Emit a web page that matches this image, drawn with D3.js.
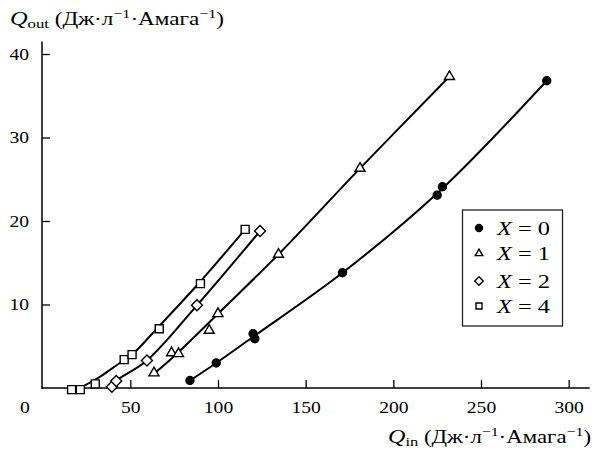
<!DOCTYPE html>
<html>
<head>
<meta charset="utf-8">
<script src="https://cdn.jsdelivr.net/npm/d3@7"></script>
<style>
  body { margin: 0; background: #fff; }
  svg text { font-family: "Liberation Serif", "Times New Roman", Times, serif !important; fill: #000; }
</style>
</head>
<body>
<div id="chart"></div>
<script>
// measured points [Q_in, Q_out]
const pointsX0 = [[84, 0.9], [99, 3], [120, 6.5], [121, 5.9], [171, 13.8], [225, 23.1], [228, 24.1], [287.5, 36.8]];
const pointsX1 = [[63.5, 1.8], [73.5, 4.2], [77.5, 4.1], [95, 6.9], [100, 8.9], [134.5, 16], [181, 26.3], [232, 37.3]];
const pointsX2 = [[39.5, 0.15], [42, 0.85], [59.5, 3.3], [88, 9.9], [124, 18.8]];
const pointsX4 = [[16.5, -0.2], [21.5, -0.2], [30, 0.5], [46.5, 3.4], [51, 4], [66.5, 7.1], [90, 12.5], [115.5, 19]];

// fitted curves
const fitX0 = [[84, 0.9], [99, 3], [120.5, 6.2], [171, 13.8], [226, 23.5], [287.5, 36.8]];
const fitX1 = [[64, 1.8], [77, 4.2], [100, 8.9], [134.5, 16], [181, 26.3], [232, 37.3]];
const fitX2 = [[40, 0.2], [42, 0.85], [59.5, 3.3], [88, 9.9], [124, 18.8]];
const fitX4 = [[21.3, 0], [32.7, 1.35], [44, 3], [51, 4], [66.4, 7.4], [89.7, 12.7], [115.5, 19]];

const seriesLabels = ["0", "1", "2", "4"];
const xTicks = [50, 100, 150, 200, 250, 300];
const yTicks = [10, 20, 30, 40];

const width = 593;
const height = 452;

const svg = d3.select("#chart")
  .append("svg")
  .attr("width", width)
  .attr("height", height);

// the source typeface runs wider than Liberation Serif, so fit widths
const digitWidth = 9.8;
function fitDigits(sel) {
  sel.attr("textLength", function () { return this.textContent.length * digitWidth; })
    .attr("lengthAdjust", "spacingAndGlyphs");
}

const x = d3.scaleLinear().domain([0, 312]).range([42.65, 589.7]);
const y = d3.scaleLinear().domain([0, 41.5]).range([388, 41.5]);

// axes
const xAxis = svg.append("g")
  .attr("transform", `translate(0,${y(0)})`)
  .call(d3.axisBottom(x).tickValues(xTicks).tickSizeInner(-8).tickSizeOuter(0).tickPadding(14));
const yAxis = svg.append("g")
  .attr("transform", `translate(42,0)`)
  .call(d3.axisLeft(y).tickValues(yTicks).tickSizeInner(-8).tickSizeOuter(0).tickPadding(13));

[xAxis, yAxis].forEach(g => {
  g.attr("font-family", null).attr("font-size", null);
  g.select(".domain").attr("stroke", "#000").attr("stroke-width", 1.5);
  g.selectAll(".tick line").attr("stroke", "#000").attr("stroke-width", 1.3);
  g.selectAll(".tick text").style("font-size", "16px").attr("fill", "#000").call(fitDigits);
});
xAxis.select(".domain").attr("d", `M${x(0) - 1},0H${x.range()[1]}`);
yAxis.select(".domain").attr("d", `M0,${y(0) + 0.75}V${y.range()[1]}`);

// shared origin label
svg.append("text")
  .attr("x", 25)
  .attr("y", 413)
  .attr("text-anchor", "middle")
  .style("font-size", "16px")
  .text("0")
  .call(fitDigits);

// curves
const line = d3.line()
  .x(d => x(d[0]))
  .y(d => y(d[1]))
  .curve(d3.curveCatmullRom.alpha(0.5));

[fitX0, fitX1, fitX2, fitX4].forEach(f => {
  svg.append("path")
    .attr("d", line(f))
    .attr("fill", "none")
    .attr("stroke", "#000")
    .attr("stroke-width", 2);
});

// marker shapes, s = overall width in px
function markerPath(kind, s) {
  if (kind === "circle") return d3.symbol(d3.symbolCircle, Math.PI * s * s / 4)();
  if (kind === "triangle") return d3.symbol(d3.symbolTriangle, s * s * 0.433)();
  if (kind === "diamond") return d3.symbol(d3.symbolSquare, s * s * 0.5)();
  return d3.symbol(d3.symbolSquare, s * s * 0.64)();
}

const groups = [
  { pts: pointsX0, kind: "circle", fill: "#000", size: 8, legSize: 7 },
  { pts: pointsX1, kind: "triangle", fill: "#fff", size: 10, legSize: 7.5 },
  { pts: pointsX2, kind: "diamond", fill: "#fff", size: 11, legSize: 8.5 },
  { pts: pointsX4, kind: "square", fill: "#fff", size: 10, legSize: 7.5 }
];

groups.forEach(gr => {
  svg.append("g")
    .selectAll("path")
    .data(gr.pts)
    .enter()
    .append("path")
    .attr("d", markerPath(gr.kind, gr.size))
    .attr("transform", d => `translate(${x(d[0])},${y(d[1])})` + (gr.kind === "diamond" ? " rotate(45)" : ""))
    .attr("fill", gr.fill)
    .attr("stroke", "#000")
    .attr("stroke-width", 1.4);
});

// legend
const legend = svg.append("g");
legend.append("rect")
  .attr("x", 462.5)
  .attr("y", 210)
  .attr("width", 100)
  .attr("height", 116)
  .attr("fill", "#fff")
  .attr("stroke", "#222")
  .attr("stroke-width", 1.3);

const legendRows = [228, 253.5, 281, 306];
groups.forEach((gr, i) => {
  legend.append("path")
    .attr("d", markerPath(gr.kind, gr.legSize))
    .attr("transform", `translate(479,${legendRows[i]})` + (gr.kind === "diamond" ? " rotate(45)" : ""))
    .attr("fill", gr.fill)
    .attr("stroke", "#000")
    .attr("stroke-width", 1.4);
  const t = legend.append("text")
    .attr("x", 497)
    .attr("y", legendRows[i] + 6.5)
    .attr("textLength", 53)
    .attr("lengthAdjust", "spacingAndGlyphs")
    .style("font-size", "19px");
  t.append("tspan").style("font-style", "italic").text("X");
  t.append("tspan").text(" = " + seriesLabels[i]);
});

// axis titles
function unitTitle(sel, sub) {
  sel.append("tspan").style("font-style", "italic").style("font-size", "19px").text("Q");
  sel.append("tspan").style("font-size", "13px").attr("dy", 3).text(sub);
  sel.append("tspan").attr("dy", -3).text(" (Дж·л");
  sel.append("tspan").style("font-size", "12.5px").attr("dy", -7).text("−1");
  sel.append("tspan").attr("dy", 7).text("·Амага");
  sel.append("tspan").style("font-size", "12.5px").attr("dy", -7).text("−1");
  sel.append("tspan").attr("dy", 7).text(")");
}

svg.append("text")
  .attr("x", 10)
  .attr("y", 25)
  .attr("textLength", 214)
  .attr("lengthAdjust", "spacingAndGlyphs")
  .style("font-size", "18px")
  .call(unitTitle, "out");

svg.append("text")
  .attr("x", 388)
  .attr("y", 443)
  .attr("textLength", 203)
  .attr("lengthAdjust", "spacingAndGlyphs")
  .style("font-size", "18px")
  .call(unitTitle, "in");
</script>
</body>
</html>
